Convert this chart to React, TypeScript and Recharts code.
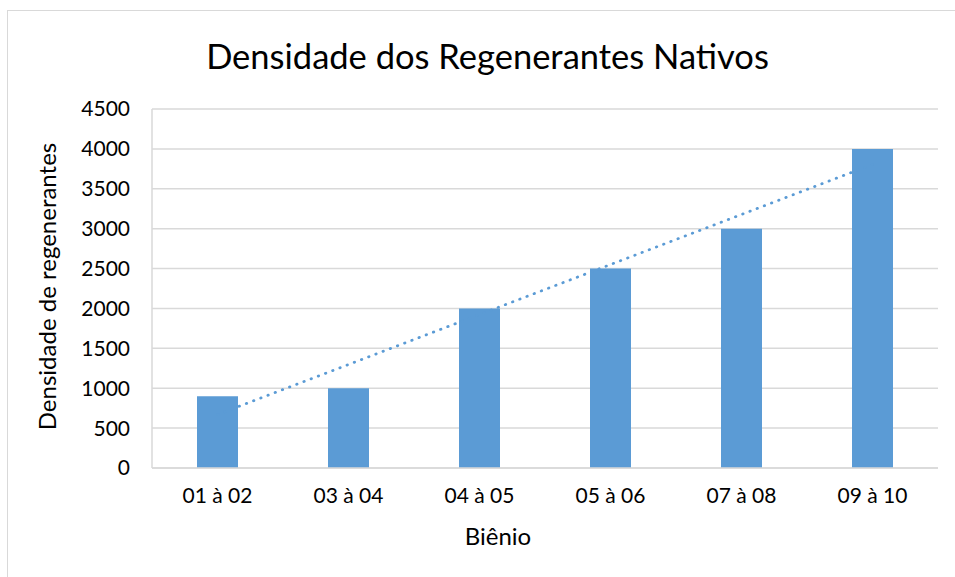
import { ComposedChart, Bar, Line, XAxis, YAxis, CartesianGrid, ReferenceLine, Label } from 'recharts';

const bienios = ['01 à 02', '03 à 04', '04 à 05', '05 à 06', '07 à 08', '09 à 10'];
const densidade = [900, 1000, 2000, 2500, 3000, 4000];
const tendencia = [670, null, null, null, null, 3805];
const yTicks = [0, 500, 1000, 1500, 2000, 2500, 3000, 3500, 4000, 4500];

const data = bienios.map((b, i) => ({ bienio: b, densidade: densidade[i], tendencia: tendencia[i] }));

const FONT = 'Lato, "Open Sans", sans-serif';
const BLUE = '#5b9bd5';
const GRID = '#d9d9d9';

export default function App() {
  return (
    <div style={{ position: 'relative', width: 955, height: 577, overflow: 'hidden', background: '#fff', fontFamily: FONT }}>
      <style>{`body{margin:0}`}</style>
      <div style={{ position: 'absolute', left: 7, top: 10, width: 1000, height: 700, border: `1px solid ${GRID}` }} />
      <div style={{ position: 'absolute', left: 0, width: 975, top: 33, textAlign: 'center', fontSize: 34.5, color: '#000', lineHeight: '46px' }}>
        Densidade dos Regenerantes Nativos
      </div>
      <div style={{ position: 'absolute', left: 0, top: 0 }}>
        <ComposedChart width={955} height={577} data={data} margin={{ top: 109, right: 17, left: 52, bottom: 30 }}>
          <CartesianGrid vertical={false} stroke={GRID} strokeWidth={1.5} />
          <XAxis xAxisId="edge" type="number" domain={[0, 6]} hide />
          <XAxis
            dataKey="bienio"
            height={79}
            tick={{ fontSize: 21, fill: '#000', fontFamily: FONT }}
            tickLine={false}
            axisLine={{ stroke: GRID, strokeWidth: 1.5 }}
            tickSize={0}
            tickMargin={20}
          >
            <Label value="Biênio" position="insideBottom" offset={2} dx={-47} fill="#000" style={{ fontSize: 24, fontFamily: FONT }} />
          </XAxis>
          <YAxis
            domain={[0, 4500]}
            ticks={yTicks}
            width={100}
            tick={{ fontSize: 21, fill: '#000', fontFamily: FONT }}
            tickLine={false}
            axisLine={false}
            tickSize={0}
            tickMargin={22}
          >
            <Label value="Densidade de regenerantes" angle={-90} position="insideLeft" offset={-5} dy={-2} fill="#000" style={{ textAnchor: 'middle', fontSize: 24, fontFamily: FONT }} />
          </YAxis>
          <ReferenceLine xAxisId="edge" x={0} stroke={GRID} strokeWidth={1.5} />
          <ReferenceLine xAxisId="edge" x={6} stroke={GRID} strokeWidth={1.5} />
          <Line
            dataKey="tendencia"
            connectNulls
            stroke={BLUE}
            strokeWidth={2.75}
            strokeDasharray="0.5 7.2"
            strokeLinecap="round"
            dot={false}
            activeDot={false}
            isAnimationActive={false}
          />
          <Bar dataKey="densidade" fill={BLUE} barSize={41} isAnimationActive={false} />
        </ComposedChart>
      </div>
    </div>
  );
}
